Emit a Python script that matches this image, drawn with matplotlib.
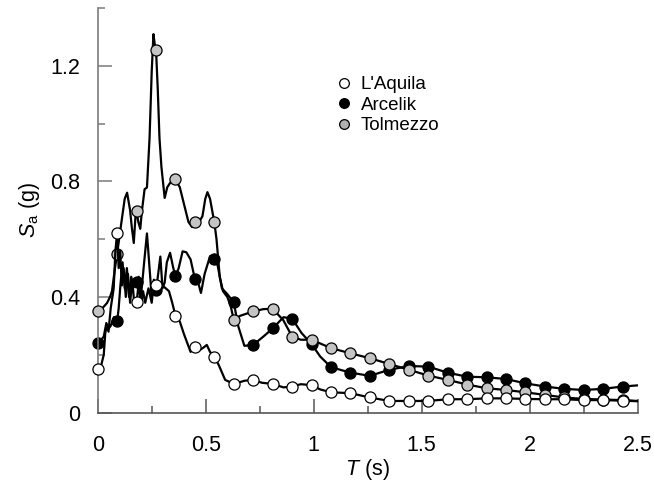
import matplotlib
matplotlib.use("Agg")
import matplotlib.pyplot as plt
from matplotlib.lines import Line2D
from matplotlib.ticker import FixedLocator

plt.rcParams['font.family'] = ['Liberation Sans', 'DejaVu Sans']
plt.rcParams['mathtext.fontset'] = 'custom'
plt.rcParams['mathtext.rm'] = 'Liberation Sans'
plt.rcParams['mathtext.it'] = 'Liberation Sans:italic'

# ---- marker data (every 0.09 s) ----
t_marks = [0.0, 0.09, 0.18, 0.27, 0.36, 0.45, 0.54, 0.63, 0.72, 0.81, 0.90, 0.99,
           1.08, 1.17, 1.26, 1.35, 1.44, 1.53, 1.62, 1.71, 1.80, 1.89, 1.98, 2.07,
           2.16, 2.25, 2.34, 2.43]
laquila_marks = [0.151, 0.622, 0.381, 0.44, 0.335, 0.226, 0.192, 0.099, 0.113, 0.099,
                 0.090, 0.095, 0.070, 0.067, 0.052, 0.040, 0.040, 0.040, 0.046, 0.046,
                 0.049, 0.049, 0.047, 0.046, 0.046, 0.043, 0.043, 0.041]
arcelik_marks = [0.242, 0.317, 0.451, 0.423, 0.472, 0.462, 0.532, 0.381, 0.234, 0.291,
                 0.325, 0.237, 0.157, 0.138, 0.127, 0.148, 0.161, 0.159, 0.138, 0.124,
                 0.122, 0.116, 0.101, 0.090, 0.082, 0.078, 0.082, 0.090]
tolmezzo_marks = [0.352, 0.55, 0.696, 1.256, 0.807, 0.66, 0.658, 0.321, 0.35, 0.359,
                  0.263, 0.252, 0.223, 0.205, 0.188, 0.168, 0.148, 0.128, 0.113, 0.097,
                  0.084, 0.078, 0.070, 0.061, 0.052, 0.047, 0.045, 0.043]

# ---- dense spectra (line) ----
laquila_t = [0, 0.015, 0.028, 0.035, 0.042, 0.05, 0.06, 0.074, 0.082, 0.09, 0.097, 0.104,
             0.112, 0.12, 0.13, 0.14, 0.15, 0.16, 0.17, 0.18, 0.19, 0.20, 0.21, 0.22, 0.235,
             0.25, 0.26, 0.27, 0.28, 0.29, 0.30, 0.315, 0.33, 0.345, 0.36, 0.38, 0.40, 0.43,
             0.45, 0.47, 0.49, 0.505, 0.52, 0.54, 0.56, 0.59, 0.63, 0.68, 0.72, 0.76, 0.81,
             0.86, 0.90, 0.94, 0.99, 1.03, 1.08, 1.17, 1.26, 1.35, 1.44, 1.53, 1.62, 1.71,
             1.80, 1.89, 1.98, 2.07, 2.16, 2.25, 2.34, 2.43, 2.5]
laquila_sa = [0.151, 0.16, 0.20, 0.275, 0.30, 0.28, 0.36, 0.43, 0.56, 0.622, 0.50, 0.56,
              0.44, 0.50, 0.40, 0.48, 0.38, 0.46, 0.37, 0.381, 0.45, 0.37, 0.42, 0.38, 0.43,
              0.38, 0.45, 0.44, 0.42, 0.45, 0.44, 0.43, 0.42, 0.38, 0.335, 0.315, 0.27, 0.21,
              0.226, 0.215, 0.225, 0.234, 0.21, 0.192, 0.165, 0.113, 0.099, 0.11, 0.113, 0.103,
              0.099, 0.087, 0.090, 0.098, 0.095, 0.080, 0.070, 0.067, 0.052, 0.040, 0.040,
              0.040, 0.046, 0.046, 0.049, 0.049, 0.047, 0.046, 0.046, 0.043, 0.043, 0.041, 0.039]

arcelik_t = [0, 0.015, 0.028, 0.04, 0.05, 0.06, 0.075, 0.09, 0.097, 0.105, 0.115, 0.125,
             0.135, 0.145, 0.155, 0.165, 0.18, 0.19, 0.20, 0.215, 0.228, 0.24, 0.25, 0.26,
             0.27, 0.28, 0.29, 0.30, 0.31, 0.32, 0.335, 0.35, 0.36, 0.375, 0.393, 0.41, 0.43,
             0.45, 0.465, 0.478, 0.495, 0.52, 0.54, 0.555, 0.575, 0.60, 0.63, 0.651, 0.679,
             0.72, 0.767, 0.81, 0.86, 0.90, 0.944, 0.99, 1.03, 1.08, 1.17, 1.26, 1.35, 1.44,
             1.53, 1.62, 1.71, 1.80, 1.89, 1.98, 2.07, 2.16, 2.25, 2.34, 2.43, 2.5]
arcelik_sa = [0.242, 0.25, 0.263, 0.31, 0.29, 0.30, 0.33, 0.317, 0.36, 0.44, 0.52, 0.43,
              0.50, 0.40, 0.47, 0.44, 0.451, 0.47, 0.40, 0.52, 0.62, 0.50, 0.40, 0.46,
              0.423, 0.48, 0.54, 0.43, 0.45, 0.52, 0.553, 0.50, 0.472, 0.50, 0.558, 0.555, 0.53,
              0.462, 0.45, 0.414, 0.48, 0.541, 0.532, 0.51, 0.43, 0.41, 0.381, 0.298, 0.231,
              0.234, 0.263, 0.291, 0.33, 0.325, 0.275, 0.237, 0.194, 0.157, 0.138, 0.127, 0.148,
              0.161, 0.159, 0.138, 0.124, 0.122, 0.116, 0.101, 0.090, 0.082, 0.078, 0.082,
              0.090, 0.094]

tolmezzo_t = [0, 0.02, 0.043, 0.057, 0.066, 0.08, 0.09, 0.11, 0.125, 0.136, 0.15, 0.158,
              0.167, 0.175, 0.18, 0.188, 0.197, 0.205, 0.217, 0.228, 0.24, 0.25, 0.258, 0.265,
              0.27, 0.278, 0.286, 0.295, 0.31, 0.322, 0.336, 0.36, 0.38, 0.40, 0.42, 0.437,
              0.45, 0.47, 0.485, 0.498, 0.508, 0.52, 0.54, 0.55, 0.565, 0.58, 0.60, 0.615,
              0.63, 0.66, 0.72, 0.767, 0.81, 0.859, 0.90, 0.94, 0.99, 1.08, 1.17, 1.26, 1.35,
              1.44, 1.53, 1.62, 1.71, 1.80, 1.89, 1.98, 2.07, 2.16, 2.25, 2.34, 2.43, 2.5]
tolmezzo_sa = [0.352, 0.36, 0.379, 0.40, 0.42, 0.50, 0.55, 0.66, 0.74, 0.761, 0.70, 0.64,
               0.587, 0.68, 0.696, 0.66, 0.636, 0.70, 0.773, 0.779, 0.95, 1.18, 1.31, 1.27,
               1.256, 1.12, 0.95, 0.85, 0.743, 0.78, 0.796, 0.807, 0.78, 0.72, 0.66, 0.642,
               0.66, 0.66, 0.68, 0.74, 0.763, 0.74, 0.658, 0.60, 0.47, 0.42, 0.40, 0.37,
               0.321, 0.335, 0.35, 0.358, 0.359, 0.32, 0.263, 0.252, 0.252, 0.223, 0.205, 0.188,
               0.168, 0.148, 0.128, 0.113, 0.097, 0.084, 0.078, 0.070, 0.061, 0.052, 0.047,
               0.045, 0.043, 0.040]

x_ticks = [0, 0.5, 1.0, 1.5, 2.0, 2.5]
x_ticklabels = ["0", "0.5", "1", "1.5", "2", "2.5"]
x_minor = [0.25, 0.75, 1.25, 1.75, 2.25]
y_ticks = [0, 0.4, 0.8, 1.2]
y_ticklabels = ["0", "0.4", "0.8", "1.2"]
y_minor = [0.2, 0.6, 1.0, 1.4]

series = [
    ("Arcelik", arcelik_t, arcelik_sa, arcelik_marks, "black"),
    ("Tolmezzo", tolmezzo_t, tolmezzo_sa, tolmezzo_marks, "#c4c4c4"),
    ("L'Aquila", laquila_t, laquila_sa, laquila_marks, "white"),
]

fig = plt.figure(figsize=(6.54, 4.86), dpi=100)
ax = fig.add_axes([0.1494, 0.1512, 0.8257, 0.832])

z = 2
for name, tl, sl, sm, fc in series:
    ax.plot(tl, sl, color="black", lw=1.6, zorder=z, solid_joinstyle="round")
    ax.plot(t_marks, sm, ls="none", marker="o", ms=8, mfc=fc, mec="black",
            mew=0.9, zorder=z + 0.5, clip_on=False)
    z += 1

ax.set_xlim(0, 2.5)
ax.set_ylim(0, 1.4)
for s in ("top", "right"):
    ax.spines[s].set_visible(False)
ax.spines["left"].set_color("#7a7a7a")
ax.spines["bottom"].set_color("#555555")
ax.spines["left"].set_linewidth(1.2)
ax.spines["bottom"].set_linewidth(1.2)

ax.xaxis.set_major_locator(FixedLocator(x_ticks))
ax.xaxis.set_minor_locator(FixedLocator(x_minor))
ax.yaxis.set_major_locator(FixedLocator(y_ticks))
ax.yaxis.set_minor_locator(FixedLocator(y_minor))
ax.set_xticklabels(x_ticklabels)
ax.set_yticklabels(y_ticklabels)
ax.tick_params(axis="both", which="both", direction="in", labelsize=15.5)
ax.tick_params(axis="x", which="major", length=10, width=1.1, color="#555555", pad=16)
ax.tick_params(axis="x", which="minor", length=5, width=1.1, color="#555555")
ax.tick_params(axis="y", which="major", length=10, width=1.1, color="#7a7a7a", pad=12.5)
ax.tick_params(axis="y", which="minor", length=5, width=1.1, color="#7a7a7a")

ax.set_xlabel(r"$T$ (s)", fontsize=15.5, labelpad=1)
ax.set_ylabel(r"$S_\mathrm{a}$ (g)", fontsize=15.5, labelpad=6)

handles = [
    Line2D([], [], ls="none", marker="o", ms=7, mfc="white", mec="black", mew=0.9),
    Line2D([], [], ls="none", marker="o", ms=7, mfc="black", mec="black", mew=0.9),
    Line2D([], [], ls="none", marker="o", ms=7, mfc="#b0b0b0", mec="black", mew=0.9),
]
fig.legend(handles, ["L'Aquila", "Arcelik", "Tolmezzo"], loc="upper left",
           bbox_to_anchor=(336.5 / 654, 1 - 76 / 486), frameon=False, fontsize=13.5,
           handlelength=0.8, handletextpad=0.5, labelspacing=0.18, borderpad=0,
           borderaxespad=0)

fig.savefig("out.png", dpi=100)
